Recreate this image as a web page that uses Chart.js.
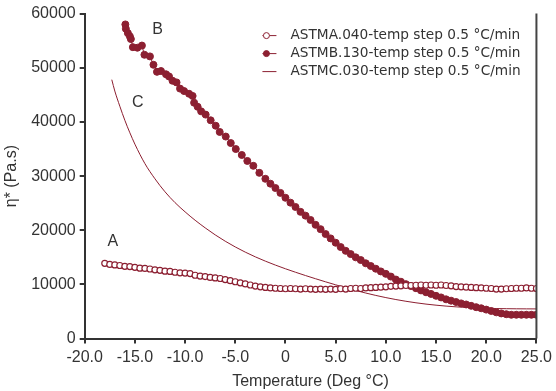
<!DOCTYPE html>
<html>
<head>
<meta charset="utf-8">
<script src="https://cdn.jsdelivr.net/npm/chart.js@4.4.1/dist/chart.umd.min.js"></script>
<style>
  html, body { margin: 0; padding: 0; background: #fff; }
  #wrap { width: 556px; height: 391px; }
</style>
</head>
<body>
<div id="wrap"><canvas id="viscChart"></canvas></div>
<script>
//-------------
//- viscosity vs temperature sweep
//-------------

var LABEL_A = "ASTMA.040-temp step 0.5 °C/min";
var LABEL_B = "ASTMB.130-temp step 0.5 °C/min";
var LABEL_C = "ASTMC.030-temp step 0.5 °C/min";

// sample A (open circles)
var tempA = [-18, -17.5, -17, -16.5, -16, -15.5, -15, -14.5, -14, -13.5, -13, -12.5, -12, -11.5, -11, -10.5,
    -10, -9.5, -9, -8.5, -8, -7.5, -7, -6.5, -6, -5.5, -5, -4.5, -4, -3.5, -3, -2.5, -2, -1.5, -1, -0.5,
    0, 0.5, 1, 1.5, 2, 2.5, 3, 3.5, 4, 4.5, 5, 5.5, 6, 6.5, 7, 7.5, 8, 8.5, 9, 9.5, 10, 10.5, 11, 11.5,
    12, 12.5, 13, 13.5, 14, 14.5, 15, 15.5, 16, 16.5, 17, 17.5, 18, 18.5, 19, 19.5, 20, 20.5, 21, 21.5,
    22, 22.5, 23, 23.5, 24, 24.5, 25];
var etaA = [13900, 13700, 13600, 13500, 13350, 13300, 13150, 13000, 12950, 12850, 12700, 12600, 12450, 12400, 12250, 12150,
    12100, 12000, 11700, 11550, 11450, 11300, 11200, 11100, 10900, 10700, 10500, 10300, 10100, 9900, 9700, 9550, 9450, 9350, 9300, 9250,
    9200, 9250, 9200, 9150, 9200, 9150, 9100, 9150, 9100, 9150, 9100, 9200, 9150, 9250, 9300, 9250, 9350, 9400, 9450, 9500, 9550, 9650, 9700, 9750,
    9800, 9800, 9850, 9900, 9850, 9900, 9850, 9900, 9800, 9750, 9600, 9550, 9500, 9450, 9400, 9350, 9300, 9250, 9150, 9150,
    9200, 9250, 9300, 9300, 9350, 9300, 9250];

// sample B (filled circles)
var tempB = [-15.95, -15.9, -15.7, -15.5, -15.4, -15.2, -14.75, -14.3, -14.05, -13.5, -13.15, -12.8, -12.4, -11.9, -11.6, -11.25,
    -10.85, -10.5, -10.1, -9.6, -9.25, -9.1, -8.75, -8.4, -7.95, -7.45, -6.95, -6.55, -5.95, -5.45, -4.95, -4.35, -3.8, -3.2,
    -2.6, -2, -1.5, -1, -0.5, 0, 0.5, 1, 1.5, 2, 2.5, 3, 3.5, 4, 4.5, 5, 5.5, 6, 6.5, 7, 7.5, 8, 8.5, 9, 9.5, 10,
    10.5, 11, 11.5, 12, 12.5, 13, 13.5, 14, 14.5, 15, 15.5, 16, 16.5, 17, 17.5, 18, 18.5, 19, 19.5, 20, 20.5, 21, 21.5,
    22, 22.5, 23, 23.5, 24, 24.5, 25];
var etaB = [58000, 57200, 56400, 55800, 55300, 53800, 53700, 54100, 52400, 52100, 50550, 49250, 49400, 48800, 48400, 47600,
    47300, 46150, 45700, 45200, 44800, 43550, 42800, 41950, 41350, 40300, 39300, 38150, 37300, 36100, 35000, 33900, 32800, 31900,
    30600, 29500, 28600, 27800, 26900, 26000, 25100, 24300, 23400, 22700, 21900, 21000, 20200, 19300, 18500, 17700, 16900, 16200, 15600, 15000, 14500, 13900, 13400, 12900, 12400, 11950,
    11450, 10900, 10500, 10050, 9700, 9300, 8900, 8550, 8250, 7900, 7600, 7250, 7000, 6750, 6500, 6300, 6050, 5800, 5600, 5350, 5100, 4850, 4650,
    4500, 4400, 4400, 4400, 4400, 4400, 4400];

// sample C (line only)
var tempC = [-17.3, -17, -16.5, -16, -15.5, -15, -14, -13, -12, -11, -10, -9, -8, -7, -6, -5, -4, -3, -2, -1,
    0, 1, 2, 3, 4, 5, 6, 7, 8, 9, 10, 11, 12, 13, 14, 15, 16, 17, 18, 19, 20, 21, 22, 23, 24, 25];
var etaC = [47800, 45700, 42900, 40300, 38000, 35900, 32300, 29500, 27100, 25100, 23400, 21850, 20450, 19150, 17980, 16920, 15960, 15090, 14300, 13570,
    12890, 12250, 11640, 11050, 10480, 9930, 9400, 8890, 8410, 7970, 7570, 7210, 6890, 6610, 6370, 6170, 6000, 5860, 5750, 5660, 5600, 5550, 5520, 5500, 5490, 5480];

// curve tags
var tagText = ["A", "B", "C"];
var tagTemp = [-17.2, -12.75, -14.7];
var tagEta = [18000, 57000, 43500];

var COLOR_MAIN = "#8c1f31";
var TEXT_COLOR = "#333333";
var FONT_FAMILY = "'Liberation Sans', Arial, sans-serif";
var LEGEND_FONT = "13.7px 'DejaVu Sans', sans-serif";

function toPoints(xs, ys) {
    var pts = [];
    for (var i = 0; i < xs.length; i++) {
        pts.push({ x: xs[i], y: ys[i] });
    }
    return pts;
}

// right frame line, curve tags and the legend box
var decorPlugin = {
    id: "decor",
    afterDraw: function (chart) {
        var ctx = chart.ctx;
        var area = chart.chartArea;
        var xs = chart.scales.x;
        var ys = chart.scales.y;

        ctx.save();
        ctx.strokeStyle = "#444";
        ctx.lineWidth = 2;
        ctx.beginPath();
        ctx.moveTo(area.right, area.top);
        ctx.lineTo(area.right, area.bottom);
        ctx.stroke();

        ctx.fillStyle = TEXT_COLOR;
        ctx.font = "16px " + FONT_FAMILY;
        ctx.textAlign = "center";
        ctx.textBaseline = "middle";
        for (var i = 0; i < tagText.length; i++) {
            ctx.fillText(tagText[i], xs.getPixelForValue(tagTemp[i]), ys.getPixelForValue(tagEta[i]));
        }

        // legend
        var lx = area.right - 274;
        var ly = area.top + 22;
        var rowH = 18;
        ctx.font = LEGEND_FONT;
        ctx.textAlign = "left";
        chart.data.datasets.forEach(function (ds, k) {
            var y = ly + k * rowH;
            ctx.strokeStyle = COLOR_MAIN;
            ctx.lineWidth = 1;
            ctx.beginPath();
            ctx.moveTo(lx, y);
            ctx.lineTo(lx + 14, y);
            ctx.stroke();
            if (ds.pointRadius > 0) {
                ctx.beginPath();
                ctx.arc(lx + 4, y, 3, 0, Math.PI * 2);
                ctx.fillStyle = ds.pointBackgroundColor;
                ctx.fill();
                ctx.stroke();
            }
            ctx.fillStyle = TEXT_COLOR;
            ctx.fillText(ds.label, lx + 28, y);
        });
        ctx.restore();
    }
};

var ctx = document.getElementById("viscChart").getContext("2d");
var chart = new Chart(ctx, {
    type: "scatter",
    data: {
        datasets: [
            {
                label: LABEL_A,
                data: toPoints(tempA, etaA),
                showLine: true,
                borderColor: COLOR_MAIN,
                borderWidth: 1,
                pointRadius: 3,
                pointBorderWidth: 1.2,
                pointBorderColor: COLOR_MAIN,
                pointBackgroundColor: "#ffffff",
                backgroundColor: "#ffffff"
            },
            {
                label: LABEL_B,
                data: toPoints(tempB, etaB),
                showLine: true,
                borderColor: COLOR_MAIN,
                borderWidth: 1,
                pointRadius: 3.5,
                pointBorderWidth: 1,
                pointBorderColor: COLOR_MAIN,
                pointBackgroundColor: COLOR_MAIN,
                backgroundColor: COLOR_MAIN
            },
            {
                label: LABEL_C,
                data: toPoints(tempC, etaC),
                showLine: true,
                borderColor: COLOR_MAIN,
                borderWidth: 1,
                cubicInterpolationMode: "monotone",
                pointRadius: 0,
                pointBackgroundColor: COLOR_MAIN
            }
        ]
    },
    options: {
        responsive: true,
        maintainAspectRatio: false,
        animation: false,
        layout: { padding: { top: 8, right: 0, bottom: 0, left: 2 } },
        plugins: {
            legend: { display: false },
            tooltip: { enabled: false }
        },
        scales: {
            x: {
                type: "linear",
                min: -20,
                max: 25,
                ticks: {
                    stepSize: 5,
                    color: TEXT_COLOR,
                    font: { family: FONT_FAMILY, size: 16 },
                    maxRotation: 0,
                    padding: 4,
                    callback: function (v) { return v === 0 ? "0" : v.toFixed(1); }
                },
                grid: { drawOnChartArea: false, drawTicks: true, tickLength: 5, color: "#333", lineWidth: 2 },
                border: { display: true, color: "#333", width: 2 },
                title: {
                    display: true,
                    text: "Temperature (Deg °C)",
                    color: TEXT_COLOR,
                    font: { family: FONT_FAMILY, size: 16 },
                    padding: { top: 1, bottom: 0 }
                }
            },
            y: {
                min: 0,
                max: 60000,
                ticks: {
                    stepSize: 10000,
                    color: TEXT_COLOR,
                    font: { family: FONT_FAMILY, size: 16 },
                    padding: 4,
                    callback: function (v) { return String(v); }
                },
                grid: { drawOnChartArea: false, drawTicks: true, tickLength: 5, color: "#333", lineWidth: 2 },
                border: { display: true, color: "#333", width: 2 },
                title: {
                    display: true,
                    text: "η* (Pa.s)",
                    color: TEXT_COLOR,
                    font: { family: FONT_FAMILY, size: 16 },
                    padding: { top: 0, bottom: 6 }
                }
            }
        }
    },
    plugins: [decorPlugin]
});
</script>
</body>
</html>
